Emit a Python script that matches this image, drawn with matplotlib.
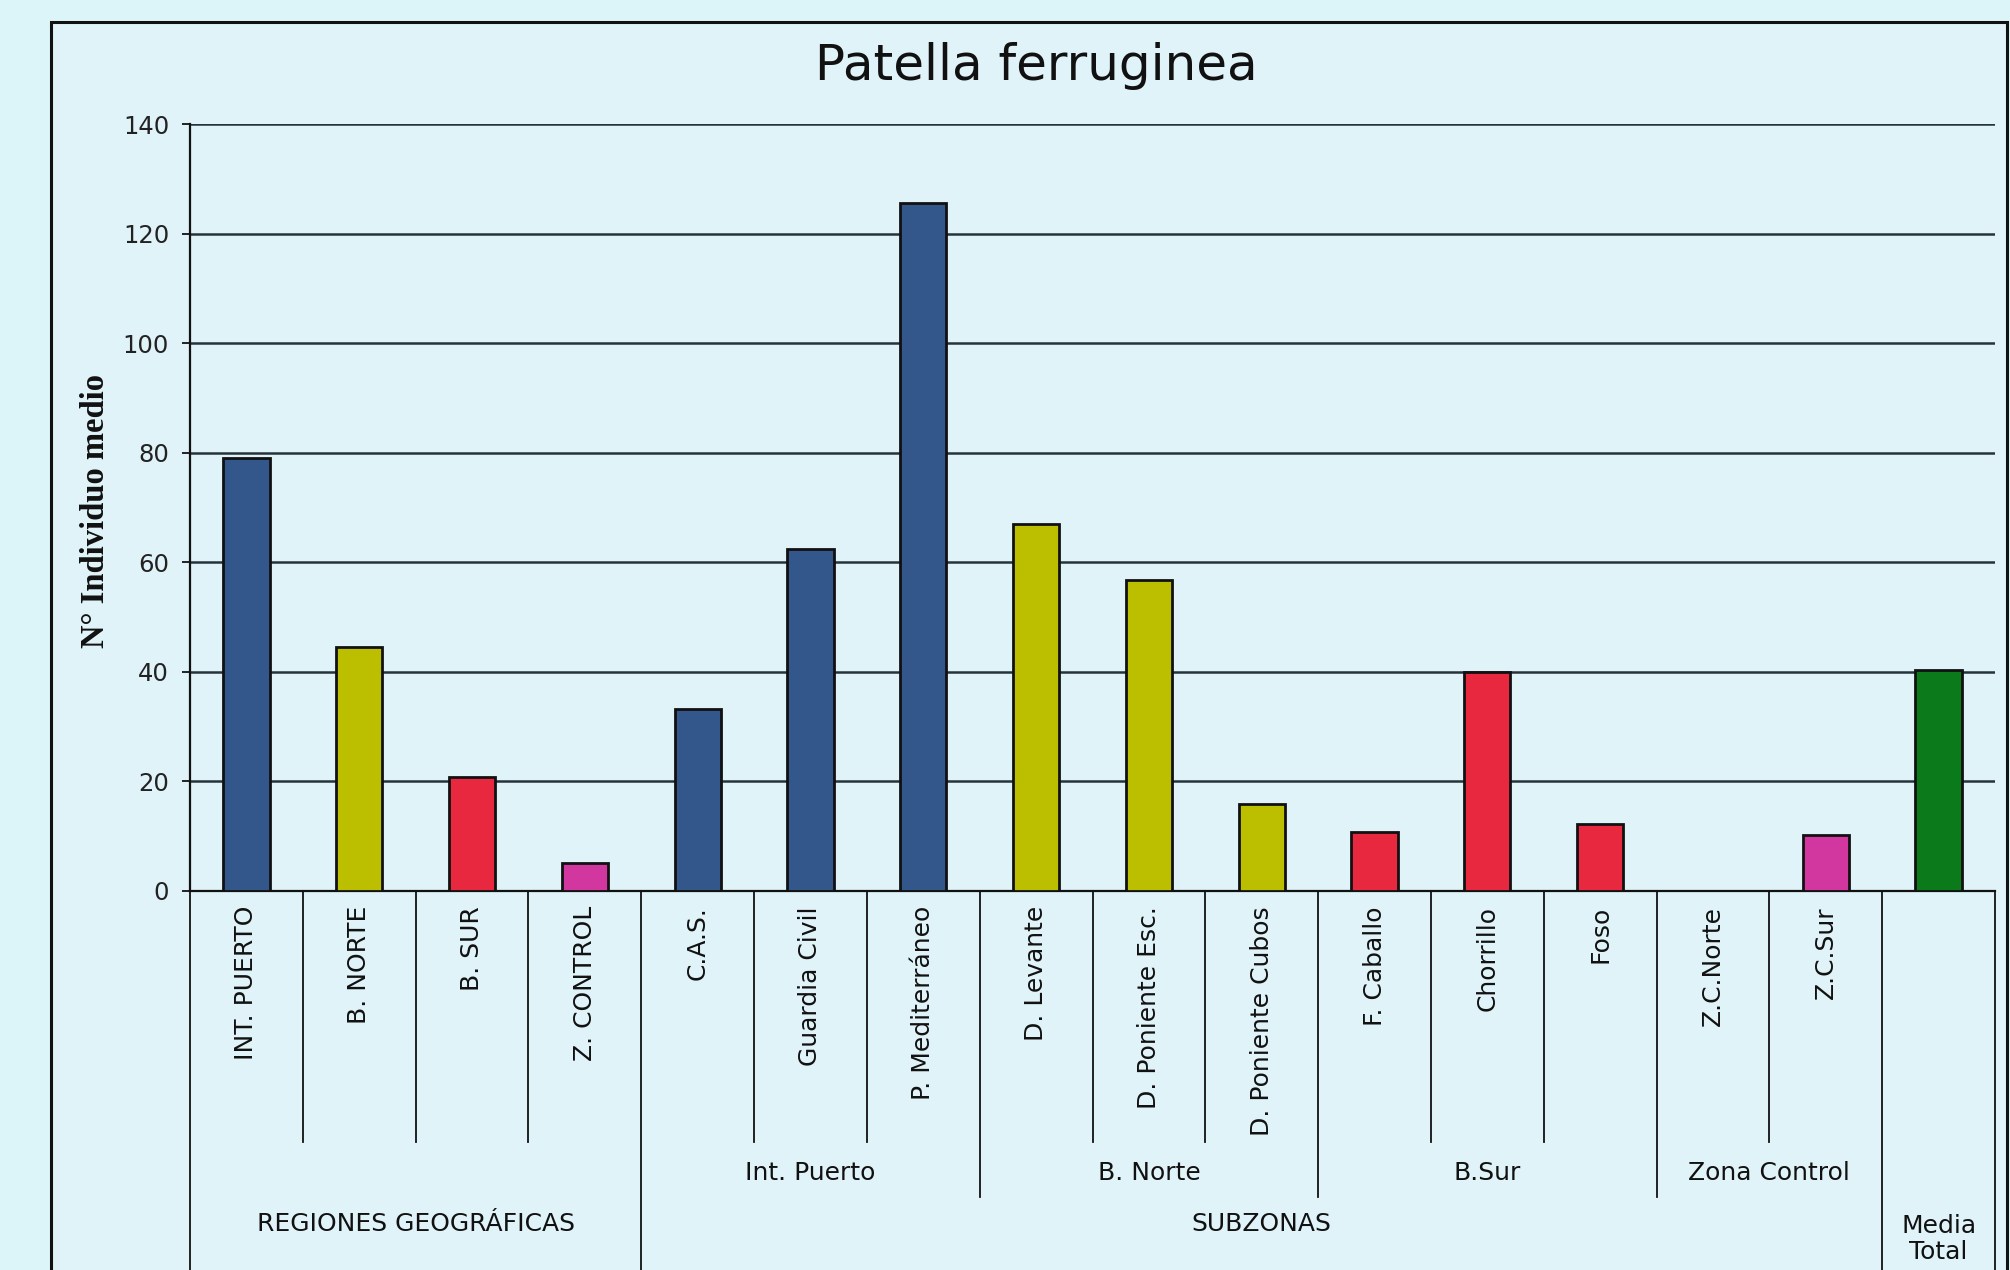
import matplotlib
matplotlib.use("Agg")
import matplotlib.pyplot as plt
from matplotlib.patches import Rectangle

categories = ["INT. PUERTO", "B. NORTE", "B. SUR", "Z. CONTROL",
              "C.A.S.", "Guardia Civil", "P. Mediterráneo",
              "D. Levante", "D. Poniente Esc.", "D. Poniente Cubos",
              "F. Caballo", "Chorrillo", "Foso",
              "Z.C.Norte", "Z.C.Sur", ""]
values = [79, 44.5, 20.8, 5.2,
          33.2, 62.5, 125.5,
          67, 56.7, 15.9,
          10.8, 40, 12.2,
          0, 10.3, 40.3]
bar_colors = ["#33578a", "#bcbf00", "#e8283f", "#d2369f",
              "#33578a", "#33578a", "#33578a",
              "#bcbf00", "#bcbf00", "#bcbf00",
              "#e8283f", "#e8283f", "#e8283f",
              "#d2369f", "#d2369f", "#0b7a1a"]

# groups: (label, first index, last index)
subgroups = [("Int. Puerto", 4, 6), ("B. Norte", 7, 9), ("B.Sur", 10, 12), ("Zona Control", 13, 14)]
topgroups = [("REGIONES GEOGRÁFICAS", 0, 3), ("SUBZONAS", 4, 14), ("Media\nTotal", 15, 15)]

yticks = [0, 20, 40, 60, 80, 100, 120, 140]

W, H = 2010, 1270
bg = "#e0f3f9"

fig = plt.figure(figsize=(W / 100, H / 100), dpi=100)
fig.patch.set_facecolor("#dcf5f9")

# chart frame
frame = Rectangle((51 / W, -0.05), (2007 - 51) / W, (H - 22) / H + 0.05,
                  transform=fig.transFigure, facecolor=bg,
                  edgecolor="#111111", linewidth=2.2, zorder=-5)
fig.patches.append(frame)

ax_left, ax_right, ax_top, ax_bot = 190, 1995, 124, 891
ax = fig.add_axes([ax_left / W, (H - ax_bot) / H, (ax_right - ax_left) / W, (ax_bot - ax_top) / H])
ax.set_zorder(2)
ax.patch.set_alpha(0)

x = list(range(len(categories)))
ax.bar(x, values, width=0.41, color=bar_colors, edgecolor="#111111", linewidth=2.0, zorder=3)

ax.set_xlim(-0.5, len(categories) - 0.5)
ax.set_ylim(0, 140)
ax.set_yticks(yticks)
ax.set_yticklabels([str(v) for v in yticks], fontsize=17.5, color="#222222")
ax.tick_params(axis="y", direction="out", length=6, width=1.2, pad=9)
ax.set_xticks([])
ax.grid(axis="y", color="#26343a", linewidth=1.8, zorder=1)
ax.set_axisbelow(True)

for s in ["top", "right"]:
    ax.spines[s].set_visible(False)
ax.spines["left"].set_linewidth(1.6)
ax.spines["bottom"].set_linewidth(1.6)
ax.spines["left"].set_color("#111111")
ax.spines["bottom"].set_color("#111111")

h = ax_bot - ax_top


def ay(ypix):
    return (ax_bot - ypix) / h


trans = ax.get_xaxis_transform()

# category labels
for i, name in enumerate(categories):
    if name:
        ax.text(i, ay(906), name, rotation=90, ha="center", va="top",
                fontsize=18, color="#111111", transform=trans)

# divider lines below axis
level = {}
for i in range(len(categories) + 1):
    level[i] = 1
for lab, a, b in subgroups:
    level[a] = max(level[a], 2)
    level[b + 1] = max(level[b + 1], 2)
for lab, a, b in topgroups:
    level[a] = 3
    level[b + 1] = 3

ends = {1: ay(1142), 2: ay(1197), 3: ay(1300)}
for i in range(len(categories) + 1):
    xp = i - 0.5
    ax.plot([xp, xp], [0, ends[level[i]]], color="#111111", linewidth=1.3,
            transform=trans, clip_on=False)

for lab, a, b in subgroups:
    ax.text((a + b) / 2, ay(1173), lab, ha="center", va="center",
            fontsize=18, color="#111111", transform=trans)

for lab, a, b in topgroups:
    yy = ay(1239) if "\n" in lab else ay(1224)
    ax.text((a + b) / 2, yy, lab, ha="center", va="center", linespacing=1.12,
            fontsize=18, color="#111111", transform=trans)

fig.text(1036 / W, 1 - 66 / H, "Patella ferruginea", ha="center", va="center",
         fontsize=36, color="#111111")
fig.text(96 / W, 1 - 511 / H, "N° Individuo medio", rotation=90, ha="center", va="center",
         fontsize=23.5, fontweight="bold", family="Liberation Serif", color="#111111")

fig.savefig("out.png", dpi=100, facecolor=fig.get_facecolor())
